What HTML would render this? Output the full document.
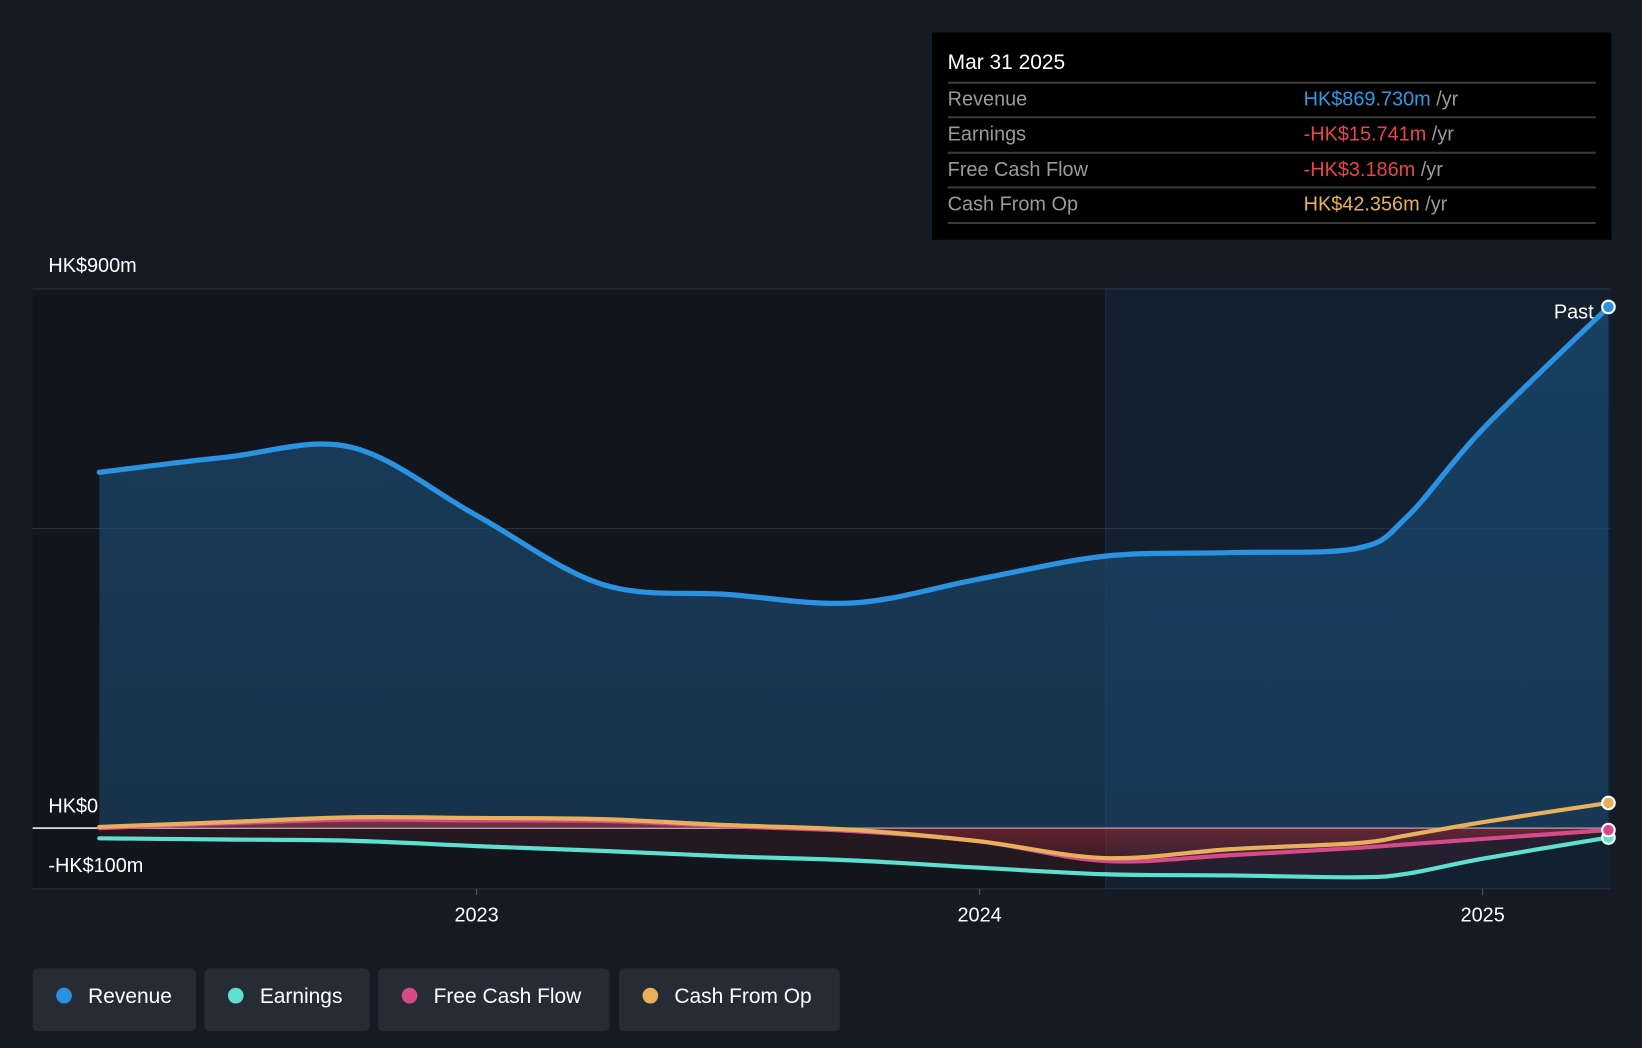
<!DOCTYPE html>
<html><head><meta charset="utf-8"><style>
html,body{margin:0;padding:0;background:#151b24;}
svg{display:block;font-family:"Liberation Sans",sans-serif;}
</style></head><body>
<svg id="c" width="1642" height="1048" viewBox="0 0 1568 1001">
<defs>
<linearGradient id="rg" x1="0" y1="0" x2="0" y2="1"><stop offset="0" stop-color="#1b4a72" stop-opacity="0.75"/><stop offset="1" stop-color="#1b4a72" stop-opacity="0.55"/></linearGradient>
<linearGradient id="ng" x1="0" y1="0" x2="0" y2="1"><stop offset="0" stop-color="#c0303a" stop-opacity="0.55"/><stop offset="1" stop-color="#c0303a" stop-opacity="0.15"/></linearGradient>
</defs>
<rect x="0" y="0" width="1568" height="1001" fill="#151b24"/>
<rect x="31" y="276" width="1025" height="573" fill="#12161c"/>
<rect x="1056" y="276" width="482" height="573" fill="#122030"/>
<line x1="1056" y1="276" x2="1056" y2="849" stroke="#1e3346" stroke-width="1"/>
<g id="grid"></g>
<g id="areas"></g>
<g id="lines"></g>
<g id="labels"></g>
<text x="1522" y="304" fill="#fff" font-size="19" text-anchor="end">Past</text>
<g>
<rect x="890" y="31" width="649" height="198" fill="#000"/>
<text x="905" y="66" fill="#fff" font-size="20">Mar 31 2025</text>
<line x1="905" y1="79" x2="1524" y2="79" stroke="#3a3a3a" stroke-width="2"/>
<text x="905" y="101" fill="#9a9a9a" font-size="19">Revenue</text>
<text x="1245" y="101" font-size="19"><tspan fill="#2a9be6">HK$869.730m</tspan><tspan fill="#9a9a9a"> /yr</tspan></text>
<line x1="905" y1="112" x2="1524" y2="112" stroke="#3a3a3a" stroke-width="2"/>
<text x="905" y="134" fill="#9a9a9a" font-size="19">Earnings</text>
<text x="1245" y="134" font-size="19"><tspan fill="#e8444b">-HK$15.741m</tspan><tspan fill="#9a9a9a"> /yr</tspan></text>
<line x1="905" y1="146" x2="1524" y2="146" stroke="#3a3a3a" stroke-width="2"/>
<text x="905" y="168" fill="#9a9a9a" font-size="19">Free Cash Flow</text>
<text x="1245" y="168" font-size="19"><tspan fill="#e8444b">-HK$3.186m</tspan><tspan fill="#9a9a9a"> /yr</tspan></text>
<line x1="905" y1="179" x2="1524" y2="179" stroke="#3a3a3a" stroke-width="2"/>
<text x="905" y="201" fill="#9a9a9a" font-size="19">Cash From Op</text>
<text x="1245" y="201" font-size="19"><tspan fill="#e8b05c">HK$42.356m</tspan><tspan fill="#9a9a9a"> /yr</tspan></text>
<line x1="905" y1="213" x2="1524" y2="213" stroke="#3a3a3a" stroke-width="2"/>
</g>
<g id="legend"></g>
</svg>
<script>
const times=[2022.25,2022.5,2022.75,2023,2023.25,2023.5,2023.75,2024,2024.25,2024.5,2024.75,2024.85,2025,2025.25];
const revenue=[594,619,636,522,407,390,376,416,454,460,467,520,666,870];
const earnings=[-17,-19,-21,-30,-38,-47,-54,-66,-77,-79,-82,-76,-51,-15.7];
const fcf=[0,8,14,13,12,3,-5,-22,-55,-45,-33,-27,-18,-3.2];
const cfo=[2,10,18,17,15,5,-3,-22,-50,-35,-25,-12,10,42];
const yTicks=[900,0,-100];
const yTickLabels=["HK$900m","HK$0","-HK$100m"];
const xTicks=[2023,2024,2025];
const NS="http://www.w3.org/2000/svg";
const X=t=>455+(t-2023)*480.5;
const Y=v=>791-v*0.5722;
function mk(tag,attrs,parent){const e=document.createElementNS(NS,tag);for(const k in attrs)e.setAttribute(k,attrs[k]);parent.appendChild(e);return e;}
function path(vals){
  const p=times.map((t,i)=>[X(t),Y(vals[i])]);
  let d="M"+p[0][0]+","+p[0][1];
  for(let i=0;i<p.length-1;i++){
    const p0=p[Math.max(0,i-1)],p1=p[i],p2=p[i+1],p3=p[Math.min(p.length-1,i+2)];
    const c1=[p1[0]+(p2[0]-p0[0])/6,p1[1]+(p2[1]-p0[1])/6];
    const c2=[p2[0]-(p3[0]-p1[0])/6,p2[1]-(p3[1]-p1[1])/6];
    d+=" C"+c1[0]+","+c1[1]+" "+c2[0]+","+c2[1]+" "+p2[0]+","+p2[1];
  }
  return d;
}
const grid=document.getElementById('grid');
[900,500].forEach(v=>{const l=mk('line',{x1:31,x2:1538,y1:Y(v),y2:Y(v),stroke:'#2e3540','stroke-width':1},grid);

});
mk('line',{x1:31,x2:1538,y1:849,y2:849,stroke:'#2e3540','stroke-width':1},grid);
const zl=mk('line',{x1:31,x2:1538,y1:Y(0),y2:Y(0),stroke:'#ffffff','stroke-width':1.5},grid);


const labels=document.getElementById('labels');
const ly=[253,769,826];
yTicks.forEach((v,i)=>{const t=mk('text',{x:46,y:ly[i]+7,fill:'#fff','font-size':19},labels);t.textContent=yTickLabels[i];

});
xTicks.forEach(v=>{mk('line',{x1:X(v),x2:X(v),y1:849,y2:855,stroke:'#555'},labels);
const t=mk('text',{x:X(v),y:880,fill:'#fff','font-size':19,'text-anchor':'middle'},labels);t.textContent=String(v);

});
const areas=document.getElementById('areas');
const x0=X(times[0]),x1=X(times[times.length-1]);
const ra=mk('path',{d:path(revenue)+" L"+x1+","+Y(0)+" L"+x0+","+Y(0)+" Z",fill:'url(#rg)'},areas);


const ea=mk('path',{d:path(fcf)+" L"+x1+","+Y(0)+" L"+x0+","+Y(0)+" Z",fill:'url(#ng)'},areas);


const ea2=mk('path',{d:path(earnings)+" L"+x1+","+Y(0)+" L"+x0+","+Y(0)+" Z",fill:'#5a2030','fill-opacity':0.25},areas);


const lines=document.getElementById('lines');
const series=[[earnings,'#5ee0d0','earnings-line'],[fcf,'#d64a8a','fcf-line'],[cfo,'#e8b05c','cfo-line'],[revenue,'#2a92e0','revenue-line']];
series.forEach(s=>{const p=mk('path',{d:path(s[0]),fill:'none',stroke:s[1],'stroke-width':s[2]=='revenue-line'?5:4,'stroke-linecap':'round'},lines);


const c=mk('circle',{cx:x1,cy:Y(s[0][s[0].length-1]),r:6,fill:s[1],stroke:'#fff','stroke-width':2},lines);

});
const leg=document.getElementById('legend');
const items=[["Revenue",'#2a92e0',31,156],["Earnings",'#5ee0d0',195,158],["Free Cash Flow",'#d64a8a',361,221],["Cash From Op",'#e8b05c',591,211]];
items.forEach(it=>{const g=mk('g',{},leg);


mk('rect',{x:it[2],y:925,width:it[3],height:60,rx:5,fill:'#262c36'},g);
mk('circle',{cx:it[2]+30,cy:951,r:7.5,fill:it[1]},g);
const t=mk('text',{x:it[2]+53,y:958,fill:'#fff','font-size':20},g);t.textContent=it[0];});
</script>
</body></html>
